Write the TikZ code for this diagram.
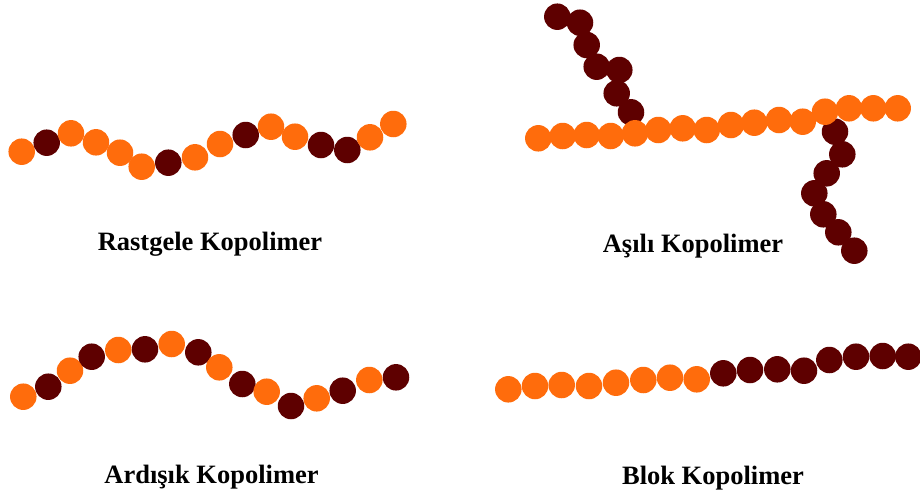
\documentclass[tikz,border=0pt]{standalone}
\usepackage{fontspec}
\setmainfont{Liberation Serif}
\definecolor{monoA}{RGB}{255,108,12}
\definecolor{monoB}{RGB}{94,0,0}
\tikzset{
  bead/.style={circle, inner sep=0pt, minimum size=26.5pt},
  ba/.style={bead, fill=monoA},
  bb/.style={bead, fill=monoB},
  caption/.style={anchor=base, font=\fontsize{26.5}{30}\selectfont\bfseries}
}
\begin{document}
\begin{tikzpicture}[x=1pt,y=-1pt]
\path[use as bounding box, clip] (0,0) rectangle (920,493);
\fill[white] (0,0) rectangle (920,493);

% random copolymer
\foreach \x/\y/\s [count=\i] in {
  21.7/151.7/ba, 46.7/142.7/bb, 71/133.3/ba, 96/142.3/ba, 120/152.7/ba,
  141.7/166.7/ba, 168.3/162.7/bb, 195/157.3/ba, 220/144/ba, 245.7/135/bb,
  271/126.7/ba, 295/136.7/ba, 321/145/bb, 347.3/150/bb, 370/137.3/ba,
  393.3/124/ba}
  \node[\s] (r\i) at (\x,\y) {};
\node[caption] (rlabel) at (210,250) {Rastgele Kopolimer};

% graft copolymer: side branches first, backbone on top
\foreach \x/\y [count=\i] in {
  557.3/16.7, 580/22.7, 586.7/45, 596.7/66.7, 619.3/70, 616.7/93.3, 631/112.3}
  \node[bb] (gu\i) at (\x,\y) {};
\foreach \x/\y [count=\i] in {
  835/131.7, 842.3/154.3, 826.7/173.3, 814.3/193.3, 823.3/214.3,
  838.3/232.3, 854.3/250.7}
  \node[bb] (gl\i) at (\x,\y) {};
\foreach \x/\y [count=\i] in {
  538.3/138.3, 562.7/136, 586.7/135, 610.7/136, 635/133.3, 658.3/130,
  682.7/128.3, 706.7/130, 731/125, 754.3/122.7, 779/120, 802.7/121.7,
  825/111.7, 849/108.3, 873.3/108.3, 897.7/108.3}
  \node[ba] (g\i) at (\x,\y) {};
\node[caption] (glabel) at (693,252) {Aşılı Kopolimer};

% alternating copolymer
\foreach \x/\y/\s [count=\i] in {
  23.3/396.7/ba, 48.3/386.7/bb, 70/370.7/ba, 91.7/356.7/bb, 118.3/350/ba,
  145/349.3/bb, 171.7/344/ba, 198.3/352.3/bb, 219.3/367.3/ba, 242.3/384/bb,
  266.7/391.7/ba, 291/406/bb, 316.7/398.3/ba, 342.7/390.7/bb, 369.3/380/ba,
  396/377.3/bb}
  \node[\s] (a\i) at (\x,\y) {};
\node[caption] (alabel) at (211.5,483) {Ardışık Kopolimer};

% block copolymer
\foreach \x/\y/\s [count=\i] in {
  508.3/389.3/ba, 535/386/ba, 561.7/385/ba, 589/386/ba, 616/382.7/ba,
  643.3/380/ba, 670/377.7/ba, 696.7/379.3/ba, 723.3/373.3/bb, 750/370/bb,
  777.3/369.3/bb, 804/370.7/bb, 829.3/360/bb, 856/356.7/bb, 882.7/356/bb,
  908.3/356.7/bb}
  \node[\s] (b\i) at (\x,\y) {};
\node[caption] (blabel) at (713,484) {Blok Kopolimer};
\end{tikzpicture}
\end{document}
